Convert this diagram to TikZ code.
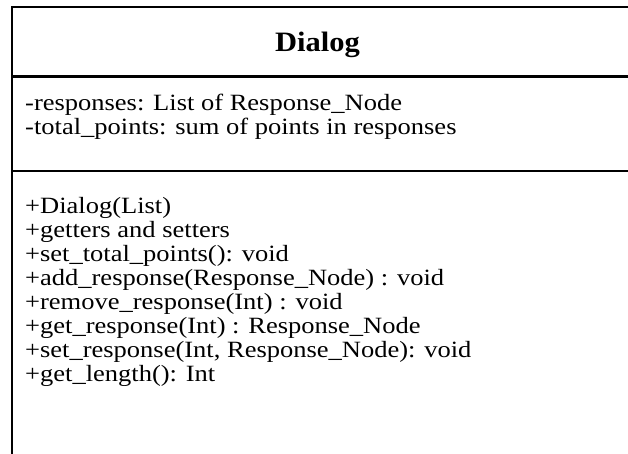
\documentclass[tikz,border=0pt]{standalone}
\usepackage{fontspec}
\setmainfont{Liberation Serif}
\newcommand\sqtext[1]{\scalebox{1}[0.88]{#1}}
\newcommand\sqtitle[1]{\scalebox{1}[0.92]{#1}}
\begin{document}
\begin{tikzpicture}[x=1pt,y=-1pt,
  member/.style={anchor=base west,inner sep=0pt,font=\fontsize{26.5}{30}\selectfont},
  titletext/.style={anchor=base,inner sep=0pt,font=\fontsize{30.5}{34}\selectfont\bfseries},
  frame/.style={line width=2pt,line cap=rect},
  thickrule/.style={line width=3pt},
  thinrule/.style={line width=1.8pt}]
\useasboundingbox (0,0) rectangle (628,453);
\clip (0,0) rectangle (628,453);
\fill[white] (0,0) rectangle (628,453);
% frame
\coordinate (tl) at (12,7);
\coordinate (tr) at (640,7);
\coordinate (bl) at (12,470);
\draw[frame] (tr) -- (tl) -- (bl);
\coordinate (d1l) at (12,76);
\coordinate (d1r) at (640,76);
\draw[thickrule] (d1l) -- (d1r);
\coordinate (d2l) at (12,171);
\coordinate (d2r) at (640,171);
\draw[thinrule] (d2l) -- (d2r);
% title
\node[titletext] (title) at (317.5,51) {\sqtitle{Dialog}};
% attributes
\node[member] (a1) at (25,110) {\sqtext{-responses: List of Response\_Node}};
\node[member] (a2) at (25,134) {\sqtext{-total\_points: sum of points in responses}};
% methods
\node[member] (m1) at (25,213) {\sqtext{+Dialog(List)}};
\node[member] (m2) at (25,237) {\sqtext{+getters and setters}};
\node[member] (m3) at (25,261) {\sqtext{+set\_total\_points(): void}};
\node[member] (m4) at (25,285) {\sqtext{+add\_response(Response\_Node) : void}};
\node[member] (m5) at (25,309) {\sqtext{+remove\_response(Int) : void}};
\node[member] (m6) at (25,333) {\sqtext{+get\_response(Int) : Response\_Node}};
\node[member] (m7) at (25,357) {\sqtext{+set\_response(Int, Response\_Node): void}};
\node[member] (m8) at (25,381) {\sqtext{+get\_length(): Int}};
\end{tikzpicture}
\end{document}
